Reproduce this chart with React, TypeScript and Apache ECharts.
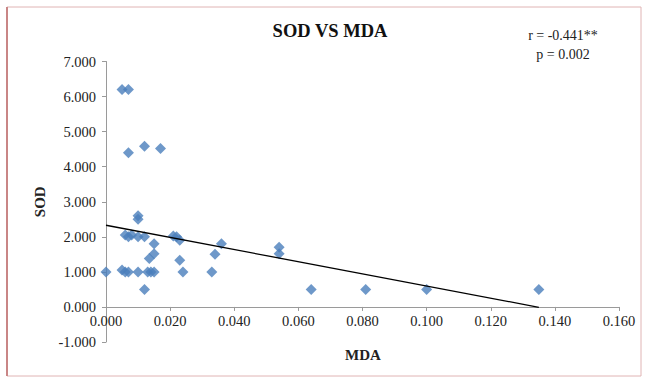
import React, { useEffect, useRef } from "react";
import * as echarts from "echarts";

const MDA: number[] = [
  0.000, 0.005, 0.006, 0.007, 0.010, 0.013, 0.014, 0.015, 0.024, 0.033,
  0.012, 0.064, 0.081, 0.100, 0.135,
  0.005, 0.007, 0.007, 0.012, 0.017,
  0.010, 0.010, 0.006, 0.007, 0.008, 0.010, 0.012,
  0.021, 0.022, 0.023, 0.015, 0.015, 0.0135, 0.023, 0.034, 0.036, 0.054, 0.054,
];
const SOD: number[] = [
  1.0, 1.05, 1.0, 1.0, 1.0, 1.0, 1.0, 1.0, 1.0, 1.0,
  0.5, 0.5, 0.5, 0.5, 0.5,
  6.2, 6.2, 4.4, 4.58, 4.52,
  2.6, 2.5, 2.05, 2.0, 2.05, 2.0, 2.0,
  2.02, 2.0, 1.9, 1.8, 1.52, 1.38, 1.33, 1.5, 1.8, 1.7, 1.52,
];
const TREND_X: number[] = [0, 0.135];
const TREND_Y: number[] = [2.33, -0.01];

const TITLE = "SOD VS MDA";
const STAT_R = "r = -0.441**";
const STAT_P = "p = 0.002";
const X_NAME = "MDA";
const Y_NAME = "SOD";

const SERIF = "Liberation Serif";

const Y_MIN = -1;
const Y_MAX = 7;
const GRID_TOP = 61.5;
const GRID_BOTTOM = 36;
const CHART_H = 378;

export default function App() {
  const ref = useRef<HTMLDivElement>(null);
  useEffect(() => {
    if (!ref.current) return;
    const chart = echarts.init(ref.current, undefined, { renderer: "svg" });
    const points = MDA.map((x, i) => [x, SOD[i]]);
    const trend = TREND_X.map((x, i) => [x, TREND_Y[i]]);
    const plotH = CHART_H - GRID_TOP - GRID_BOTTOM;
    const zeroOffset = -(plotH * (0 - Y_MIN)) / (Y_MAX - Y_MIN);
    chart.setOption({
      animation: false,
      backgroundColor: "#ffffff",
      grid: {
        left: 106,
        right: 26,
        top: GRID_TOP,
        bottom: GRID_BOTTOM,
        containLabel: false,
        outerBoundsMode: "none",
      },
      xAxis: {
        type: "value",
        min: 0,
        max: 0.16,
        interval: 0.02,
        position: "bottom",
        offset: zeroOffset,
        axisLine: { show: true, onZero: false, lineStyle: { color: "#9a9a9a", width: 1 } },
        axisTick: { show: true, length: 4, lineStyle: { color: "#9a9a9a" } },
        axisLabel: {
          formatter: (v: number) => v.toFixed(3),
          fontFamily: SERIF,
          fontSize: 14.5,
          color: "#222",
          margin: 7,
        },
        splitLine: { show: false },
      },
      yAxis: {
        type: "value",
        min: Y_MIN,
        max: Y_MAX,
        interval: 1,
        name: Y_NAME,
        nameLocation: "middle",
        nameGap: 42,
        nameTextStyle: { fontFamily: SERIF, fontSize: 15, fontWeight: "bold", color: "#222" },
        axisLine: { show: true, lineStyle: { color: "#9a9a9a", width: 1 } },
        axisTick: { show: true, length: 4, lineStyle: { color: "#9a9a9a" } },
        axisLabel: {
          formatter: (v: number) => v.toFixed(3),
          fontFamily: SERIF,
          fontSize: 14.5,
          color: "#222",
          margin: 10,
        },
        splitLine: { show: false },
      },
      series: [
        {
          type: "line",
          data: trend,
          showSymbol: false,
          symbol: "none",
          lineStyle: { color: "#000000", width: 1.3 },
          z: 3,
        },
        {
          type: "scatter",
          data: points,
          symbol: "diamond",
          symbolSize: 11,
          itemStyle: { color: "#4a7ebb" },
          z: 2,
        },
      ],
      graphic: [
        {
          type: "rect",
          shape: { x: 7, y: 7, width: 634, height: 369 },
          style: { fill: "none", stroke: "#e0b4b4", lineWidth: 1 },
          silent: true,
        },
        {
          type: "line",
          shape: { x1: 7, y1: 7, x2: 7, y2: 376 },
          style: { stroke: "#c98686", lineWidth: 2 },
          silent: true,
        },
        {
          type: "text",
          x: 330,
          y: 31,
          style: {
            text: TITLE,
            fontFamily: SERIF,
            fontSize: 18.5,
            fontWeight: "bold",
            fill: "#111",
            align: "center",
            verticalAlign: "middle",
          },
        },
        {
          type: "text",
          x: 363,
          y: 355,
          style: {
            text: X_NAME,
            fontFamily: SERIF,
            fontSize: 15,
            fontWeight: "bold",
            fill: "#222",
            align: "center",
            verticalAlign: "middle",
          },
        },
        {
          type: "text",
          x: 563,
          y: 35,
          style: {
            text: STAT_R,
            fontFamily: SERIF,
            fontSize: 14,
            fill: "#222",
            align: "center",
            verticalAlign: "middle",
          },
        },
        {
          type: "text",
          x: 563,
          y: 54,
          style: {
            text: STAT_P,
            fontFamily: SERIF,
            fontSize: 14,
            fill: "#222",
            align: "center",
            verticalAlign: "middle",
          },
        },
      ],
    });
    return () => chart.dispose();
  }, []);
  return (
    <div
      ref={ref}
      style={{ position: "fixed", left: 0, top: 0, width: 645, height: 378 }}
    />
  );
}
